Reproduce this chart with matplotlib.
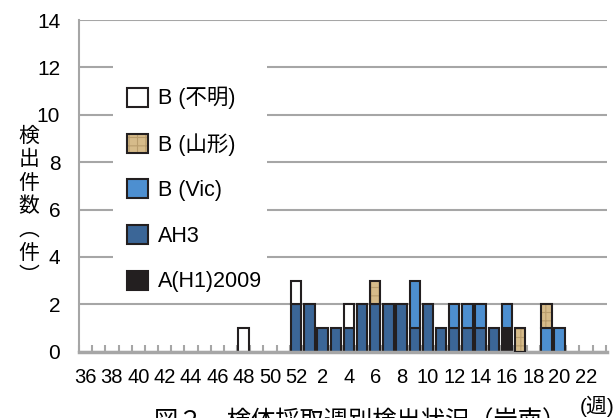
import matplotlib
matplotlib.use('Agg')
import matplotlib.pyplot as plt
from matplotlib import font_manager
from matplotlib.patches import Patch, Rectangle
import numpy as np

# 検出週（36週〜52週、1週〜23週）
weeks = list(range(36, 53)) + list(range(1, 24))

# 型別の検出件数（週ごと）
a_h1_2009 = [0] * 17 + [0, 0, 0, 0, 0, 0, 0, 0, 0, 0, 0, 0, 0, 0, 0, 1, 0, 0, 0, 0, 0, 0, 0]
ah3 = [0] * 16 + [2] + [2, 1, 1, 1, 2, 2, 2, 2, 1, 2, 1, 1, 1, 1, 1, 0, 0, 0, 0, 0, 0, 0, 0]
b_vic = [0] * 17 + [0, 0, 0, 0, 0, 0, 0, 0, 2, 0, 0, 1, 1, 1, 0, 1, 0, 0, 1, 1, 0, 0, 0]
b_yamagata = [0] * 17 + [0, 0, 0, 0, 0, 1, 0, 0, 0, 0, 0, 0, 0, 0, 0, 0, 1, 0, 1, 0, 0, 0, 0]
b_unknown = [0] * 12 + [1, 0, 0, 0, 1] + [0, 0, 0, 1, 0, 0, 0, 0, 0, 0, 0, 0, 0, 0, 0, 0, 0, 0, 0, 0, 0, 0, 0]

names = {f.name for f in font_manager.fontManager.ttflist}
narrow = 'Liberation Sans Narrow' if 'Liberation Sans Narrow' in names else 'Liberation Sans'
plt.rcParams['font.family'] = ['Liberation Sans', 'Noto Sans CJK JP']
plt.rcParams['hatch.linewidth'] = 0.8

edge = '#231f20'
grey = '#a6a6a6'

fig = plt.figure(figsize=(6.16, 4.18), dpi=100)
ax = fig.add_axes([79 / 616, 66.3 / 418, 528 / 616, 331.7 / 418])

x = np.arange(len(weeks))
width = 0.78
bottom = np.zeros(len(weeks))


def stack(values, face, hatch=None, hatch_color=None):
    global bottom
    v = np.array(values, dtype=float)
    m = v > 0
    if hatch:
        ax.bar(x[m], v[m], width, bottom=bottom[m], color=face, hatch=hatch,
               edgecolor=hatch_color, linewidth=0, zorder=2)
        ax.bar(x[m], v[m], width, bottom=bottom[m], fill=False,
               edgecolor=edge, linewidth=1.5, zorder=3)
    else:
        ax.bar(x[m], v[m], width, bottom=bottom[m], color=face,
               edgecolor=edge, linewidth=1.5, zorder=2)
    bottom = bottom + v


stack(a_h1_2009, '#231f20')
stack(ah3, '#3b6697')
stack(b_vic, '#4d8fd0')
stack(b_yamagata, '#d6bb8a', hatch='++', hatch_color='#b99d6d')
stack(b_unknown, 'white')

ax.set_xlim(-0.5, 39.6)
ax.set_ylim(0, 14)
ax.set_yticks(range(0, 15, 2))
ax.set_xticks(x[::2])
ax.set_xticklabels([str(w) for w in weeks[::2]], fontsize=14.5, family=narrow)
ax.set_xticks(np.arange(-0.5, 40, 1), minor=True)
ax.tick_params(axis='x', which='major', length=0, pad=12)
ax.tick_params(axis='x', which='minor', direction='in', length=5, width=1.5, color=grey)
ax.tick_params(axis='y', length=0, pad=13.5, labelsize=15)

ax.set_axisbelow(True)
ax.yaxis.grid(True, color=grey, linewidth=1.5)
for s in ['top', 'right']:
    ax.spines[s].set_visible(False)
ax.spines['left'].set_color(grey)
ax.spines['left'].set_linewidth(1.5)
ax.spines['bottom'].set_color(grey)
ax.spines['bottom'].set_linewidth(2.5)

# 凡例の背景（目盛線を隠す）
ax.add_patch(Rectangle((0.0644, 0.171), 0.2917, 0.702, transform=ax.transAxes,
                       facecolor='white', edgecolor='none', zorder=1))

handles = [
    Patch(facecolor='white', edgecolor=edge, linewidth=1.5),
    (Patch(facecolor='#d6bb8a', hatch='++', edgecolor='#b99d6d', linewidth=0),
     Patch(fill=False, edgecolor=edge, linewidth=1.5)),
    Patch(facecolor='#4d8fd0', edgecolor=edge, linewidth=1.5),
    Patch(facecolor='#3b6697', edgecolor=edge, linewidth=1.5),
    Patch(facecolor='#231f20', edgecolor=edge, linewidth=1.5),
]
labels = ['B (不明)', 'B (山形)', 'B (Vic)', 'AH3', 'A(H1)2009']
leg = ax.legend(handles, labels, loc='upper left', bbox_to_anchor=(127 / 616, 1 - 87 / 418),
                bbox_transform=fig.transFigure, frameon=False, fontsize=15.5,
                handlelength=0.98, handleheight=0.98, handletextpad=0.48,
                labelspacing=1.1, borderpad=0, borderaxespad=0)
leg.set_zorder(5)

fig.text(29 / 616, 1 - 206 / 418, '検\n出\n件\n数\n︵\n件\n︶', ha='center', va='center',
         fontsize=15, linespacing=1.08, family=['Noto Sans CJK JP', 'DejaVu Sans'])
fig.text(597 / 616, 1 - 396 / 418, '(週)', ha='center', va='top', fontsize=15)
fig.text(360 / 616, 1 - 409 / 418, '図２　検体採取週別検出状況（岩南）', ha='center', va='top',
         fontsize=17.5, family=['Noto Sans CJK JP', 'DejaVu Sans'])

fig.savefig('out.png', dpi=100)
